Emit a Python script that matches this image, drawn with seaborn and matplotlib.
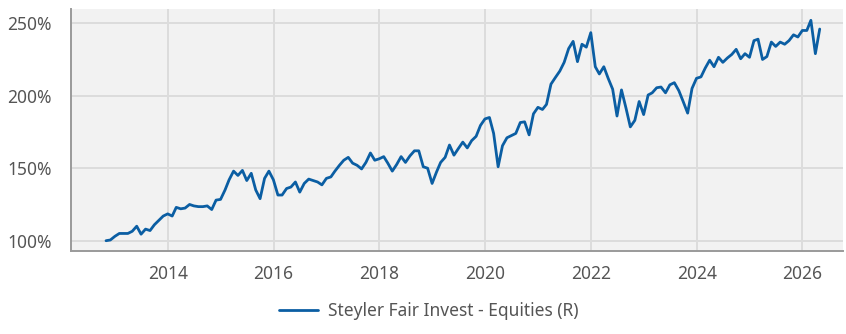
import matplotlib
matplotlib.use("Agg")
import matplotlib.pyplot as plt
import matplotlib.dates as mdates
from matplotlib.ticker import FuncFormatter
import pandas as pd
import seaborn as sns

# Monthly index level of the fund (start = 100%)
start_month = "2012-10-31"
fund_name = "Steyler Fair Invest - Equities (R)"
values = [
    100, 100.5, 103, 105, 105, 105, 106.5, 110, 104.5, 108,
    107, 111, 114, 117, 118.5, 117, 123, 122, 122.5, 125,
    124, 123.5, 123.5, 124, 121.5, 128, 128.5, 135, 142, 148,
    145, 148.5, 141.5, 146.5, 135, 129, 143, 148, 142, 131.5,
    131.5, 136, 137, 140.5, 133.5, 139.5, 142.5, 141.5, 140.5, 138.5,
    143, 144, 148, 152, 155.5, 157.5, 153.5, 152, 149.5, 154,
    160.5, 155.5, 156.5, 158, 153.5, 148, 152.5, 158, 154, 158.5,
    162, 162, 151, 150, 139.5, 147.5, 154, 157.5, 166, 159,
    163.5, 168, 164, 169, 172, 179.5, 184, 185, 174, 151,
    165.5, 171, 172.5, 174, 181.5, 182, 173, 187.5, 192, 190.5,
    194, 208, 212.5, 217, 223, 232.5, 237.5, 223.5, 235.5, 233.5,
    243.5, 220, 215, 220, 212, 204.5, 186, 204, 191.5, 178.5,
    183, 196, 187, 200.5, 202, 205.5, 206, 202, 207.5, 209,
    203.5, 196, 188, 205, 212, 213, 219, 224.5, 220, 226.5,
    223, 226, 228.5, 232, 225.5, 229, 226.5, 238, 239, 225,
    227, 237, 234, 237, 235.5, 238, 242, 240.5, 245, 245,
    252, 229, 246,
]
y_ticks = [100, 150, 200, 250]
x_tick_years = [2014, 2016, 2018, 2020, 2022, 2024, 2026]

dates = pd.date_range(start_month, periods=len(values), freq="ME")
df = pd.DataFrame({"date": dates, "value": values, "series": fund_name})

sns.set_theme(style="whitegrid")
plt.rcParams["font.family"] = ["Noto Sans", "DejaVu Sans"]

line_color = "#0b5ea3"
text_color = "#555555"

fig = plt.figure(figsize=(8.46, 3.34), dpi=100)
ax = fig.add_axes([0.0839, 0.2485, 0.9131, 0.7245])
ax.set_facecolor("#f2f2f2")

sns.lineplot(data=df, x="date", y="value", hue="series",
             palette=[line_color], linewidth=2.0, ax=ax, legend=False)

ax.set_ylim(92.9, 259.8)
ax.set_xlim(pd.Timestamp("2012-03-03"), pd.Timestamp("2026-10-11"))
ax.set_yticks(y_ticks)
ax.yaxis.set_major_formatter(FuncFormatter(lambda v, p: f"{v:.0f}%"))
ax.set_xticks([pd.Timestamp(f"{y}-01-01") for y in x_tick_years])
ax.xaxis.set_major_formatter(mdates.DateFormatter("%Y"))

ax.grid(True, color="#dcdcdc", linewidth=1.4)
ax.set_axisbelow(True)
ax.set_xlabel("")
ax.set_ylabel("")
for side in ("top", "right"):
    ax.spines[side].set_visible(False)
for side in ("left", "bottom"):
    ax.spines[side].set_visible(True)
    ax.spines[side].set_color("#9a9a9a")
    ax.spines[side].set_linewidth(1.4)

ax.tick_params(axis="both", length=0, labelsize=12.5, colors=text_color)
ax.tick_params(axis="x", pad=10)
ax.tick_params(axis="y", pad=14)

handle = plt.Line2D([], [], color=line_color, linewidth=2.0)
fig.legend([handle], [fund_name], loc="lower center",
           bbox_to_anchor=(0.507, -0.005), frameon=False, fontsize=12.5,
           labelcolor=text_color, handlelength=2.2, handletextpad=0.6)

fig.savefig("out.png", dpi=100, facecolor="white")
